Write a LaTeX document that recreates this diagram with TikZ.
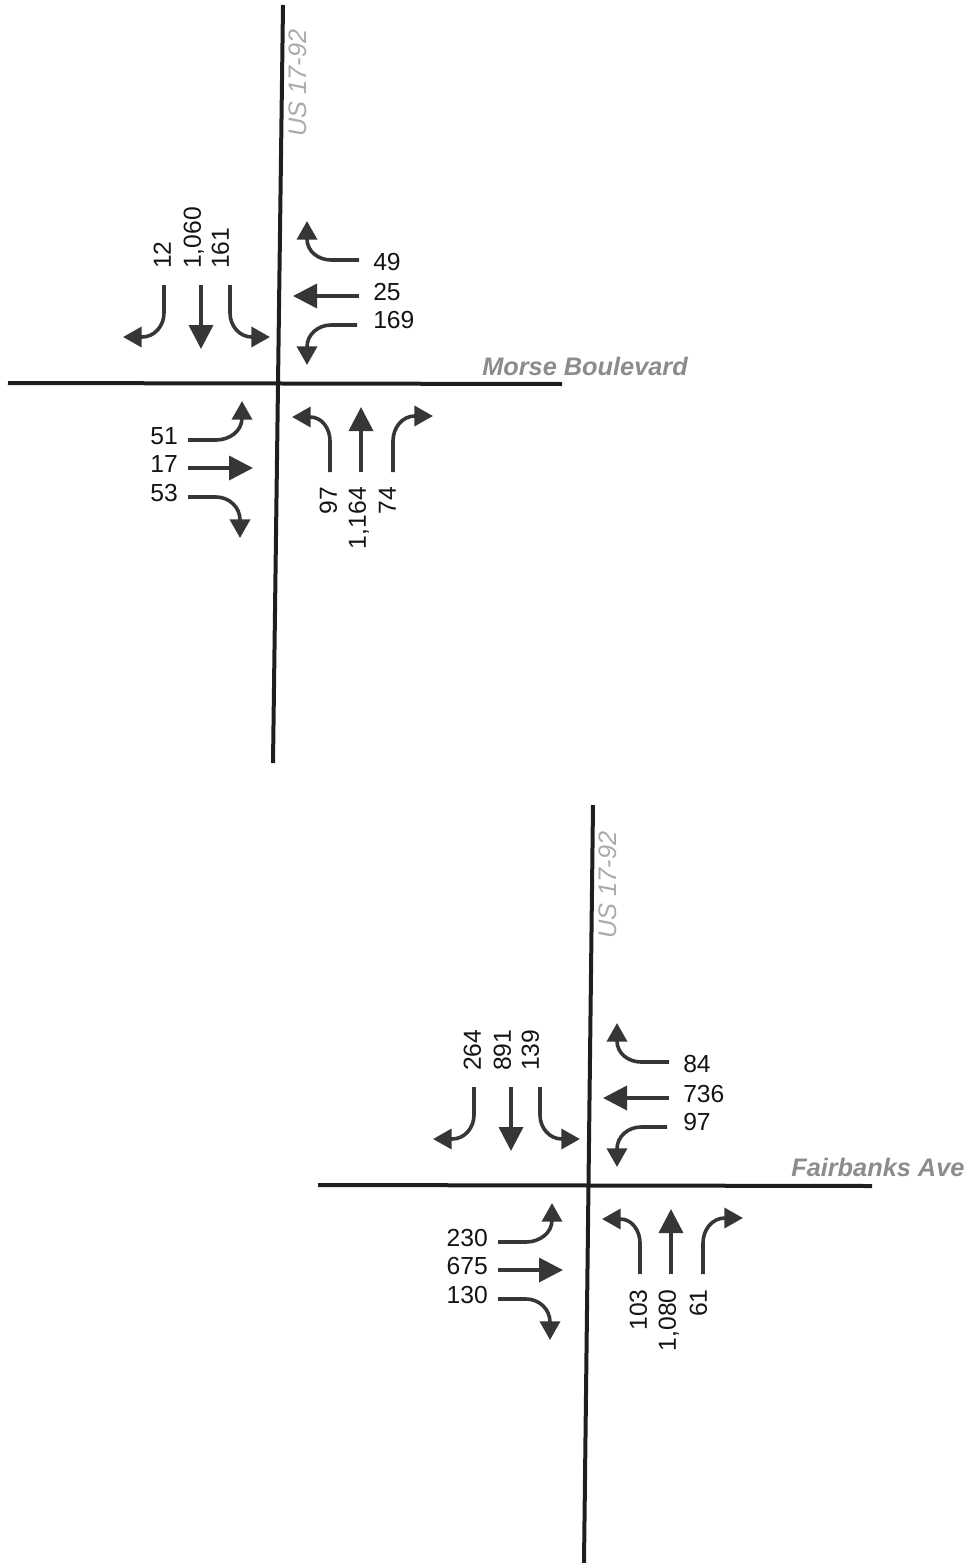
\documentclass[tikz,border=0pt]{standalone}
\usepackage{fontspec}
\setmainfont{Liberation Sans}
\usetikzlibrary{arrows.meta}
\definecolor{roadc}{HTML}{1E1E1E}
\definecolor{arrc}{HTML}{363636}
\definecolor{namec}{HTML}{8C8C8C}
\definecolor{usc}{HTML}{AAAAAA}
\definecolor{volc}{HTML}{141414}
\newcommand\movearrows[1]{%
  % southbound
  \coordinate (#1sbls) at (-114,98);  \coordinate (#1sblt) at (-155,46);
  \coordinate (#1sbts) at (-77,98);   \coordinate (#1sbtt) at (-77,34);
  \coordinate (#1sbrs) at (-48,98);   \coordinate (#1sbrt) at (-8,46);
  \draw[turn] (#1sbls) -- (-114,70) to[out=-90,in=0] (-136,46) -- (#1sblt);
  \draw[thru] (#1sbts) -- (#1sbtt);
  \draw[turn] (#1sbrs) -- (-48,70) to[out=-90,in=180] (-26,46) -- (#1sbrt);
  % westbound
  \coordinate (#1wbrs) at (81,123);   \coordinate (#1wbrt) at (29,162);
  \coordinate (#1wbts) at (81,87);    \coordinate (#1wbtt) at (15,87);
  \coordinate (#1wbls) at (79,58);    \coordinate (#1wblt) at (29,18);
  \draw[turn] (#1wbrs) -- (53,123) to[out=180,in=-90] (29,144) -- (#1wbrt);
  \draw[thru] (#1wbts) -- (#1wbtt);
  \draw[turn] (#1wbls) -- (53,58) to[out=180,in=90] (29,36) -- (#1wblt);
  % eastbound
  \coordinate (#1ebls) at (-90,-57);  \coordinate (#1eblt) at (-36,-18);
  \coordinate (#1ebts) at (-90,-85);  \coordinate (#1ebtt) at (-25,-85);
  \coordinate (#1ebrs) at (-90,-114); \coordinate (#1ebrt) at (-38,-155);
  \draw[turn] (#1ebls) -- (-62,-57) to[out=0,in=-90] (-36,-35) -- (#1eblt);
  \draw[thru] (#1ebts) -- (#1ebtt);
  \draw[turn] (#1ebrs) -- (-62,-114) to[out=0,in=90] (-38,-137) -- (#1ebrt);
  % northbound
  \coordinate (#1nbls) at (52,-89);   \coordinate (#1nblt) at (14,-34);
  \coordinate (#1nbts) at (83,-89);   \coordinate (#1nbtt) at (83,-24);
  \coordinate (#1nbrs) at (115,-89);  \coordinate (#1nbrt) at (155,-33);
  \draw[turn] (#1nbls) -- (52,-58) to[out=90,in=0] (32,-34) -- (#1nblt);
  \draw[thru] (#1nbts) -- (#1nbtt);
  \draw[turn] (#1nbrs) -- (115,-58) to[out=90,in=180] (137,-33) -- (#1nbrt);
}
\begin{document}
\begin{tikzpicture}[x=0.75pt,y=0.75pt,
  road/.style={line width=3pt, draw=roadc},
  thru/.style={line width=2.7pt, draw=arrc, -{Triangle[length=18pt,width=18pt]}},
  turn/.style={line width=2.7pt, draw=arrc, -{Triangle[length=14pt,width=15pt]}},
  vol/.style={font=\fontsize{18.5}{20}\selectfont, text=volc, inner sep=0pt, text height=0.72em, text depth=0pt},
  volv/.style={vol, rotate=90},
  street/.style={font=\fontsize{19}{22}\selectfont\bfseries\itshape, text=namec, inner sep=0pt, anchor=base west},
  route/.style={font=\fontsize{19}{20}\selectfont\itshape, text=usc, inner sep=0pt, rotate=90, anchor=west, text height=0.72em, text depth=0pt}]
\useasboundingbox (0,0) rectangle (973,-1563);

% ---------------- Intersection 1: Morse Boulevard ----------------
\coordinate (mvt) at (283,-5);   \coordinate (mvb) at (273,-763);
\coordinate (mhl) at (8,-383);   \coordinate (mhr) at (562,-384);
\draw[road] (mvt) -- (mvb);
\draw[road] (mhl) -- (mhr);
\begin{scope}[shift={(278,-383)}]
  \movearrows{m}
  \node[route] (mus) at (24,246) {US 17-92};
  \node[street] (mname) at (204,8) {Morse Boulevard};
  \node[volv, anchor=west] (m12)   at (-112,114) {12};
  \node[volv, anchor=west] (m1060) at (-82,114) {1,060};
  \node[volv, anchor=west] (m161)  at (-54,114) {161};
  \node[vol, anchor=west] (m49)  at (95,117) {49};
  \node[vol, anchor=west] (m25)  at (95,87) {25};
  \node[vol, anchor=west] (m169) at (95,59) {169};
  \node[vol, anchor=east] (m51) at (-100,-57) {51};
  \node[vol, anchor=east] (m17) at (-100,-85) {17};
  \node[vol, anchor=east] (m53) at (-100,-114) {53};
  \node[volv, anchor=east] (m97)   at (54,-104) {97};
  \node[volv, anchor=east] (m1164) at (83,-104) {1,164};
  \node[volv, anchor=east] (m74)   at (113,-104) {74};
\end{scope}

% ---------------- Intersection 2: Fairbanks Ave ----------------
\coordinate (fvt) at (593,-805);  \coordinate (fvb) at (584,-1563);
\coordinate (fhl) at (318,-1185); \coordinate (fhr) at (872,-1186);
\draw[road] (fvt) -- (fvb);
\draw[road] (fhl) -- (fhr);
\begin{scope}[shift={(588,-1185)}]
  \movearrows{f}
  \node[route] (fus) at (24,246) {US 17-92};
  \node[street] (fname) at (203,9) {Fairbanks Ave};
  \node[volv, anchor=west] (f264) at (-112,114) {264};
  \node[volv, anchor=west] (f891) at (-82,114) {891};
  \node[volv, anchor=west] (f139) at (-54,114) {139};
  \node[vol, anchor=west] (f84)  at (95,117) {84};
  \node[vol, anchor=west] (f736) at (95,87) {736};
  \node[vol, anchor=west] (f97)  at (95,59) {97};
  \node[vol, anchor=east] (f230) at (-100,-57) {230};
  \node[vol, anchor=east] (f675) at (-100,-85) {675};
  \node[vol, anchor=east] (f130) at (-100,-114) {130};
  \node[volv, anchor=east] (f103)  at (54,-104) {103};
  \node[volv, anchor=east] (f1080) at (83,-104) {1,080};
  \node[volv, anchor=east] (f61)   at (114,-104) {61};
\end{scope}
\end{tikzpicture}
\end{document}
